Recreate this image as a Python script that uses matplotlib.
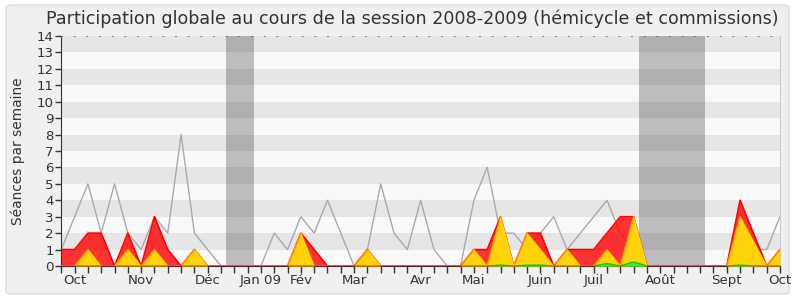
import numpy as np
import matplotlib.pyplot as plt
from matplotlib.patches import FancyBboxPatch

# weekly values, session 2008-2009
semaines = np.arange(55)
seances_total = [1, 3, 5, 2, 5, 2, 1, 3, 2, 8, 2, 1, 0, 0, 0, 0, 2, 1, 3, 2,
                 4, 2, 0, 1, 5, 2, 1, 4, 1, 0, 0, 4, 6, 2, 2, 1, 2, 3, 1, 2,
                 3, 4, 2, 1, 0, 0, 0, 0, 0, 0, 0, 2, 1, 1, 3]
presences = [1, 1, 2, 2, 0, 2, 0, 3, 1, 0, 1, 0, 0, 0, 0, 0, 0, 0, 2, 1,
             0, 0, 0, 1, 0, 0, 0, 0, 0, 0, 0, 1, 1, 3, 0, 2, 2, 0, 1, 1,
             1, 2, 3, 3, 0, 0, 0, 0, 0, 0, 0, 4, 2, 0, 1]
interventions = [0, 0, 1, 0, 0, 1, 0, 1, 0, 0, 1, 0, 0, 0, 0, 0, 0, 0, 2, 0,
                 0, 0, 0, 1, 0, 0, 0, 0, 0, 0, 0, 1, 0, 3, 0, 2, 1, 0, 1, 0,
                 0, 1, 0, 3, 0, 0, 0, 0, 0, 0, 0, 3, 1.5, 0, 1]
questions = [0] * 33 + [0.05, 0, 0.05, 0.05, 0, 0, 0, 0, 0.15, 0, 0.25,
                        0, 0, 0, 0, 0, 0, 0, 0.05, 0, 0, 0]

vacances = [(12.4, 14.5), (43.4, 48.4)]
mois_pos = [1, 6, 11, 15, 18, 22, 27, 31, 36, 40, 45, 50, 54]
mois_lab = ["Oct", "Nov", "Déc", "Jan 09", "Fév", "Mar", "Avr", "Mai",
            "Juin", "Juil", "Août", "Sept", "Oct"]

txt = "#333333"
fig = plt.figure(figsize=(8, 3), dpi=100, facecolor="white")
fig.patches.append(FancyBboxPatch((6 / 800, 6 / 300), 783 / 800, 289 / 300,
                                  boxstyle="round,pad=0,rounding_size=0.008",
                                  transform=fig.transFigure, facecolor="#f0f0f0",
                                  edgecolor="#dddddd", linewidth=1, zorder=-10))

ax = fig.add_axes([61.3 / 800, 34 / 300, 718.7 / 800, 230 / 300])
ax.set_facecolor("#f9f9f9")
ax.set_xlim(0, 54)
ax.set_ylim(0, 14)

# horizontal stripes
for y in range(1, 14, 2):
    ax.axhspan(y, y + 1, color="#e6e6e6", lw=0, zorder=0)
for a, b in vacances:
    ax.axvspan(a, b, color="black", alpha=0.24, lw=0, zorder=0.5)

ax.plot(semaines, seances_total, color="#aaaaaa", lw=1, zorder=1)
ax.fill_between(semaines, presences, color="#ff0000", alpha=0.8, lw=0, zorder=2)
ax.plot(semaines, presences, color="#ff0000", lw=1.2, zorder=2.1)
ax.fill_between(semaines, interventions, color="#ffd20a", lw=0, zorder=3)
ax.plot(semaines, interventions, color="#ffee00", lw=1, alpha=0.6, zorder=3.1)
ax.fill_between(semaines, questions, color="#33ee33", lw=0, zorder=4)
ax.plot(semaines, questions, color="#00cc00", lw=1, zorder=4.1)

ax.set_yticks(range(15))
ax.set_xticks(semaines, minor=True)
ax.set_xticks(mois_pos)
ax.set_xticklabels(mois_lab)
ax.tick_params(axis="y", length=4.5, width=1, color=txt, labelcolor=txt,
               labelsize=9.6, pad=1)
ax.tick_params(axis="x", which="both", length=5, width=1, color=txt,
               labelcolor=txt, labelsize=9.6, pad=1)

ax.spines["left"].set_color(txt)
ax.spines["bottom"].set_color("#552020")
ax.spines["right"].set_color("#cccccc")
ax.spines["top"].set_color("#666666")
ax.spines["top"].set_linewidth(0.6)
ax.spines["top"].set_linestyle((0, (1.2, 14)))

fig.text(412 / 800, 1 - 19 / 300,
         "Participation globale au cours de la session 2008-2009 (hémicycle et commissions)",
         ha="center", va="center", fontsize=12.6, color=txt)
fig.text(18 / 800, 1 - 151 / 300, "Séances par semaine", rotation=90,
         ha="center", va="center", fontsize=9.9, color=txt)

fig.savefig("out.png", dpi=100, facecolor=fig.get_facecolor())
